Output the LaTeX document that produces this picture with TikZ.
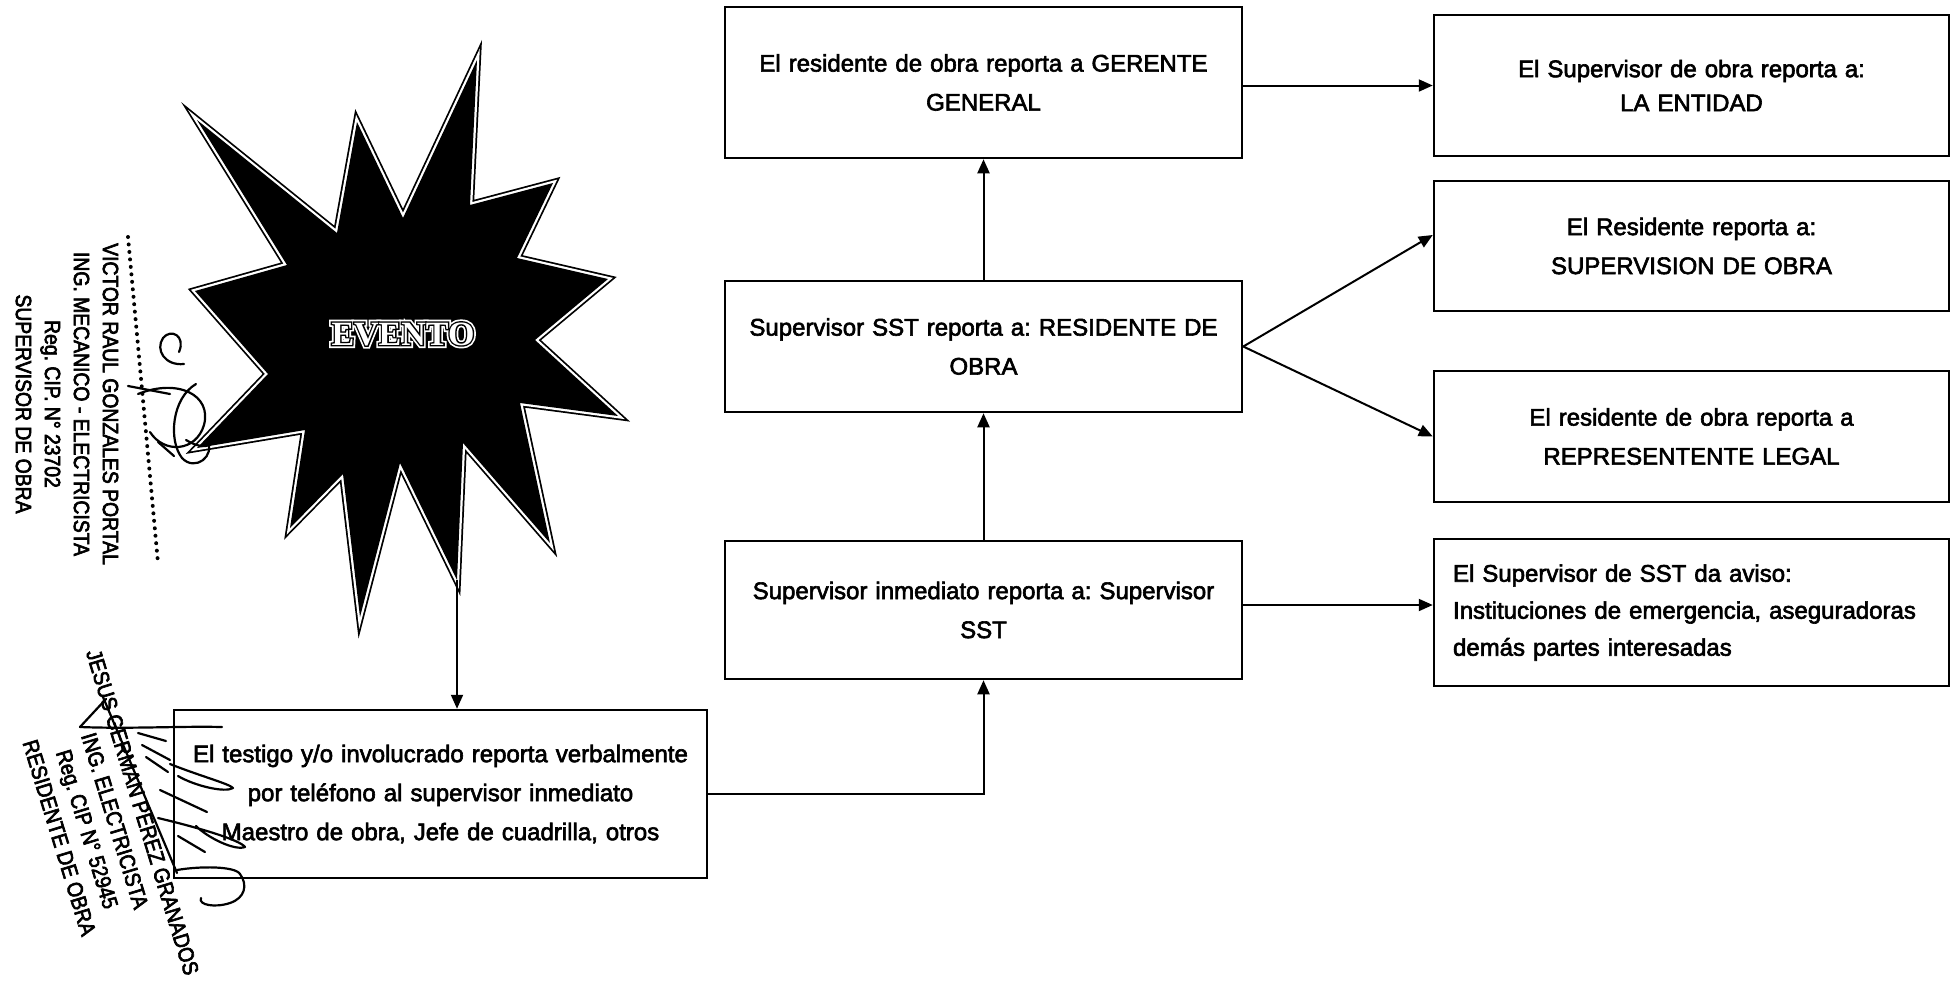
\documentclass[tikz,border=0pt]{standalone}
\usepackage{fontspec}
\setmainfont{Liberation Sans}[RawFeature={embolden=2.5}]
\newfontfamily\narrowsans[FakeStretch=0.88,RawFeature={embolden=3}]{Liberation Sans}
\font\evA="Liberation Serif/B:embolden=18" at 34pt
\font\evB="Liberation Serif/B:embolden=8" at 34pt
\font\evC="Liberation Serif/B" at 34pt
\usetikzlibrary{arrows.meta}
\tikzset{
  box/.style={draw, line width=2.5pt, align=center, inner sep=5pt, font=\fontsize{24}{39}\selectfont},
  arr/.style={line width=2pt, -{Triangle[length=14pt,width=12pt]}},
  stamp/.style={font=\narrowsans\fontsize{22}{29}\selectfont, align=center, inner sep=0pt},
  sig/.style={line width=2.2pt, line cap=round, line join=round},
}
\frenchspacing
\begin{document}
\frenchspacing
\begin{tikzpicture}[x=1pt,y=1pt]
\useasboundingbox[fill=white] (0,0) rectangle (1953,-980);

% star
\path[draw=black, line width=8pt, miter limit=20,
      postaction={draw=white, line width=4.5pt, miter limit=20},
      postaction={fill=black}]
  (197,-120) -- (337,-233) -- (357,-122) -- (403,-218) -- (477,-60) -- (470,-205)
  -- (553,-183) -- (517,-258) -- (608,-279) -- (535,-340) -- (618,-416) -- (520,-403)
  -- (550,-543) -- (463,-443) -- (457,-580) -- (400,-463) -- (360,-617) -- (343,-474)
  -- (290,-528) -- (305,-430) -- (197,-448) -- (268,-374) -- (195,-291) -- (287,-265) -- cycle;
\coordinate (startip) at (457,-580);
\node[text=white, inner sep=0pt] (eventoA) at (403,-334) {\evA EVENTO};
\node[text=black, inner sep=0pt] (eventoB) at (403,-334) {\evB EVENTO};
\node[text=white, inner sep=0pt] (evento) at (403,-334) {\evC EVENTO};

% boxes
\node[box, text width=507pt, minimum height=151pt] (gerente) at (983.5,-82.5)
  {El residente de obra reporta a GERENTE\\GENERAL};
\node[box, text width=505pt, minimum height=141pt, font=\fontsize{24}{34}\selectfont] (entidad) at (1691.5,-85.5)
  {El Supervisor de obra reporta a:\\LA ENTIDAD};
\node[box, text width=505pt, minimum height=130pt] (superv) at (1691.5,-246)
  {El Residente reporta a:\\SUPERVISION DE OBRA};
\node[box, text width=505pt, minimum height=131pt] (repres) at (1691.5,-436.5)
  {El residente de obra reporta a\\REPRESENTENTE LEGAL};
\node[box, text width=507pt, minimum height=131pt] (sst) at (983.5,-346.5)
  {Supervisor SST reporta a: RESIDENTE DE\\OBRA};
\node[box, text width=507pt, minimum height=138pt] (inmed) at (983.5,-610)
  {Supervisor inmediato reporta a: Supervisor\\SST};
\node[box, align=left, inner xsep=19pt, text width=477pt, minimum height=147pt,
      font=\fontsize{24}{37}\selectfont] (aviso) at (1691.5,-612.5)
  {El Supervisor de SST da aviso:\\Instituciones de emergencia, aseguradoras\\demás partes interesadas};
\node[box, text width=523pt, minimum height=168pt] (testigo) at (440.5,-794)
  {El testigo y/o involucrado reporta verbalmente\\por teléfono al supervisor inmediato\\Maestro de obra, Jefe de cuadrilla, otros};

% connectors
\draw[arr] (startip) -- (startip |- testigo.north);
\draw[arr] (testigo.east) -| (inmed.south);
\draw[arr] (inmed.north) -- (sst.south);
\draw[arr] (sst.north) -- (gerente.south);
\draw[arr] (gerente.east |- entidad.west) -- (entidad.west);
\draw[arr] (sst.east) -- ([yshift=11pt]superv.west);
\draw[arr] (sst.east) -- (repres.west);
\draw[arr] ([yshift=5pt]inmed.east) -- ([yshift=5pt]inmed.east -| aviso.west);

% stamp 1
\node[stamp, rotate=-90] (stampA) at (67,-404)
  {VICTOR RAUL GONZALES PORTAL\\ING. MECANICO - ELECTRICISTA\\Reg. CIP. N° 23702\\SUPERVISOR DE OBRA};
\coordinate (dotA) at (128,-237);
\coordinate (dotB) at (158,-563);
\draw[line width=4pt, line cap=round, dash pattern=on 0pt off 7.5pt] (dotA) -- (dotB);
% signature 1
\draw[sig] (184,-364) .. controls (165,-366) and (155,-350) .. (163,-338)
  .. controls (171,-328) and (186,-336) .. (179,-352);
\draw[sig] (128,-386) -- (170,-394);
\draw[sig] (138,-394) .. controls (178,-378) and (212,-395) .. (204,-425)
  .. controls (196,-452) and (164,-454) .. (150,-432);
\draw[sig] (196,-384) .. controls (172,-398) and (168,-440) .. (182,-458)
  .. controls (195,-472) and (216,-456) .. (207,-440);
\draw[sig] (158,-442) -- (174,-456);
\draw[sig] (186,-440) .. controls (196,-446) and (205,-448) .. (211,-444);

% stamp 2
\node[stamp, rotate=-73] (stampB) at (101,-825)
  {JESUS GERMAN PEREZ GRANADOS\\ING. ELECTRICISTA\\Reg. CIP N° 52945\\RESIDENTE DE OBRA};
% signature 2
\draw[sig] (80,-727) .. controls (130,-729) and (180,-726) .. (222,-727);
\draw[sig] (80,-727) -- (106,-699);
\draw[sig] (103,-697) -- (177,-873);
\draw[sig] (138,-733) -- (166,-741);
\draw[sig] (142,-745) -- (170,-760);
\draw[sig] (146,-757) -- (168,-772);
\draw[sig] (170,-764) .. controls (200,-776) and (230,-784) .. (233,-788)
  .. controls (225,-793) and (195,-786) .. (178,-776);
\draw[sig] (160,-790) -- (207,-812);
\draw[sig] (158,-818) .. controls (200,-828) and (240,-840) .. (245,-847)
  .. controls (235,-851) and (208,-838) .. (196,-826);
\draw[sig] (178,-836) -- (205,-852);
\draw[sig] (177,-870) .. controls (200,-866) and (235,-866) .. (240,-874)
  .. controls (248,-885) and (245,-898) .. (230,-903)
  .. controls (215,-908) and (198,-905) .. (201,-898);
\end{tikzpicture}
\end{document}
